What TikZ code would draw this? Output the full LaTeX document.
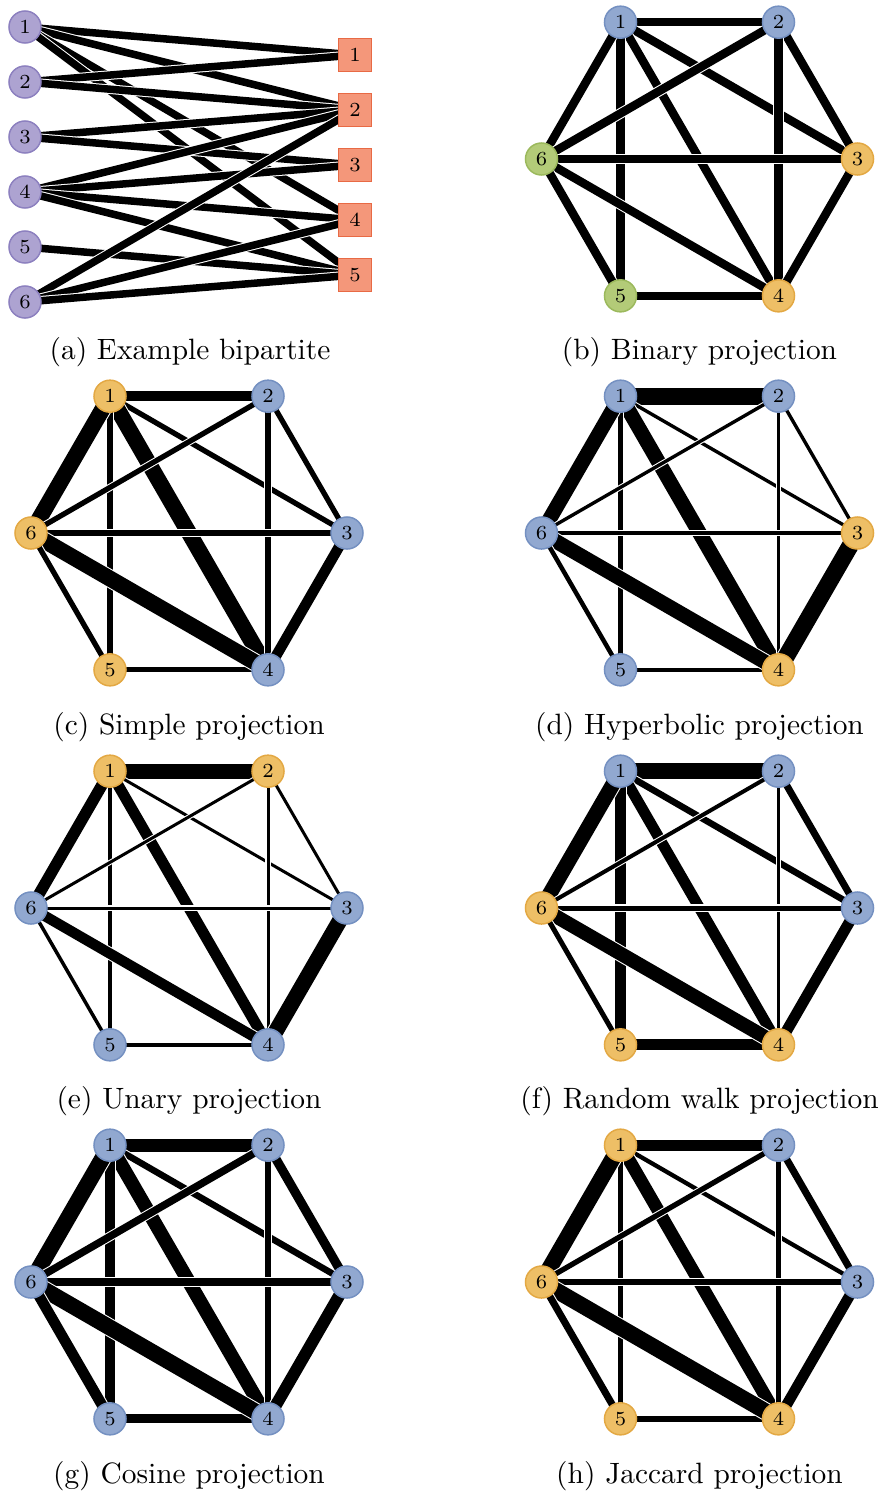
\documentclass[tikz,border=0pt]{standalone}
\usepackage{tikz}
\usetikzlibrary{backgrounds}
\definecolor{cPur}{HTML}{ADA3D1}
\definecolor{cPurD}{HTML}{8C80BF}
\definecolor{cSal}{HTML}{F4977A}
\definecolor{cSalD}{HTML}{E86A45}
\definecolor{cBlu}{HTML}{91A8D0}
\definecolor{cBluD}{HTML}{7490C1}
\definecolor{cOra}{HTML}{EEBF66}
\definecolor{cOraD}{HTML}{E3A843}
\definecolor{cGrn}{HTML}{B3CB78}
\definecolor{cGrnD}{HTML}{9BB95C}
% six vertices of one projection, on a hexagon
\newcommand{\hexnodes}[7]{%
  \node[vtx,#2] (#11) at (120:158) {1};
  \node[vtx,#3] (#12) at (60:158) {2};
  \node[vtx,#4] (#13) at (0:158) {3};
  \node[vtx,#5] (#14) at (-60:158) {4};
  \node[vtx,#6] (#15) at (-120:158) {5};
  \node[vtx,#7] (#16) at (180:158) {6};}
% weighted links, width given in pixels of the figure
\newcommand{\links}[2]{%
  \begin{pgfonlayer}{background}
    \foreach \u/\v/\w in {#2}{%
      \pgfmathsetmacro\ew{\w*0.34}
      \draw[link,double distance=\ew pt] (#1\u.center) -- (#1\v.center);}
  \end{pgfonlayer}}

\begin{document}
\begin{tikzpicture}[x=0.34pt,y=0.34pt,
  vtx/.style={circle,draw,line width=0.5pt,minimum size=10.9pt,inner sep=0pt,
              font=\fontsize{6.8}{8}\selectfont},
  sq/.style={rectangle,draw=cSalD,fill=cSal,line width=0.5pt,minimum size=11.2pt,
             inner sep=0pt,font=\fontsize{6.8}{8}\selectfont},
  vp/.style={fill=cPur,draw=cPurD},
  vb/.style={fill=cBlu,draw=cBluD},
  vo/.style={fill=cOra,draw=cOraD},
  vg/.style={fill=cGrn,draw=cGrnD},
  link/.style={draw=white,double=black,line width=0.35pt},
  subcap/.style={font=\fontsize{10}{12}\selectfont}]

\useasboundingbox (0,0) rectangle (878,-1492);

% (a) bipartite
\foreach \i in {1,...,6}
  \node[vtx,vp] (a\i) at (25,{-27-55*(\i-1)}) {\i};
\foreach \j in {1,...,5}
  \node[sq] (s\j) at (355,{-55*\j}) {\j};
\begin{pgfonlayer}{background}
  \foreach \i/\j in {1/1,1/2,1/4,1/5,2/1,2/2,3/2,3/3,4/2,4/3,4/4,4/5,5/5,6/2,6/4,6/5}
    \draw[link,double distance=2.55pt] (a\i.center) -- (s\j.center);
\end{pgfonlayer}
\node[subcap] (capa) at (190,-352) {(a) Example bipartite};

% (b) binary
\begin{scope}[shift={(699.5,-159)}]
  \hexnodes{b}{vb}{vb}{vo}{vo}{vg}{vg}
  \links{b}{1/2/8.5,1/3/8.5,1/4/8.5,1/5/8.5,1/6/8.5,2/3/8.5,2/4/8.5,2/6/8.5,
            3/4/8.5,3/6/8.5,4/5/8.5,4/6/8.5,5/6/8.5}
\end{scope}
\node[subcap] (capb) at (699.5,-352) {(b) Binary projection};

% (c) simple
\begin{scope}[shift={(189,-533)}]
  \hexnodes{c}{vo}{vb}{vb}{vb}{vo}{vo}
  \links{c}{1/2/10.5,1/3/5.3,1/4/16,1/5/5.3,1/6/16,2/3/5.3,2/4/5.3,2/6/5.3,
            3/4/10.5,3/6/5.3,4/5/5.3,4/6/16,5/6/5.3}
\end{scope}
\node[subcap] (capc) at (189,-727) {(c) Simple projection};

% (d) hyperbolic
\begin{scope}[shift={(699.5,-533)}]
  \hexnodes{d}{vb}{vb}{vo}{vo}{vb}{vb}
  \links{d}{1/2/17,1/3/3.4,1/4/14.7,1/5/4.5,1/6/14.7,2/3/3.4,2/4/3.4,2/6/3.4,
            3/4/17,3/6/3.4,4/5/4.5,4/6/14.7,5/6/4.5}
\end{scope}
\node[subcap] (capd) at (699.5,-727) {(d) Hyperbolic projection};

% (e) unary
\begin{scope}[shift={(189,-908)}]
  \hexnodes{e}{vo}{vo}{vb}{vb}{vb}{vb}
  \links{e}{1/2/15,1/3/3,1/4/11,1/5/3.5,1/6/11.5,2/3/3,2/4/3,2/6/3,
            3/4/15.5,3/6/3,4/5/3.5,4/6/10.5,5/6/3.5}
\end{scope}
\node[subcap] (cape) at (189,-1101) {(e) Unary projection};

% (f) random walk
\begin{scope}[shift={(699.5,-908)}]
  \hexnodes{f}{vb}{vb}{vb}{vo}{vo}{vo}
  \links{f}{1/2/16,1/3/6.5,1/4/11,1/5/11,1/6/15,2/3/7,2/4/3,2/6/4,
            3/4/11,3/6/5,4/5/11,4/6/14,5/6/5}
\end{scope}
\node[subcap] (capf) at (699.5,-1101) {(f) Random walk projection};

% (g) cosine
\begin{scope}[shift={(189,-1282)}]
  \hexnodes{g}{vb}{vb}{vb}{vb}{vb}{vb}
  \links{g}{1/2/13,1/3/6.5,1/4/13.9,1/5/9.2,1/6/16,2/3/9.2,2/4/6.5,2/6/7.5,
            3/4/12,3/6/7.5,4/5/9.2,4/6/16,5/6/10.7}
\end{scope}
\node[subcap] (capg) at (189,-1476) {(g) Cosine projection};

% (h) jaccard
\begin{scope}[shift={(699.5,-1282)}]
  \hexnodes{h}{vo}{vb}{vb}{vo}{vo}{vo}
  \links{h}{1/2/10.7,1/3/4.3,1/4/12.8,1/5/5.3,1/6/16,2/3/7.1,2/4/4.3,2/6/5.3,
            3/4/10.7,3/6/5.3,4/5/5.3,4/6/16,5/6/7.1}
\end{scope}
\node[subcap] (caph) at (699.5,-1476) {(h) Jaccard projection};
\end{tikzpicture}
\end{document}
